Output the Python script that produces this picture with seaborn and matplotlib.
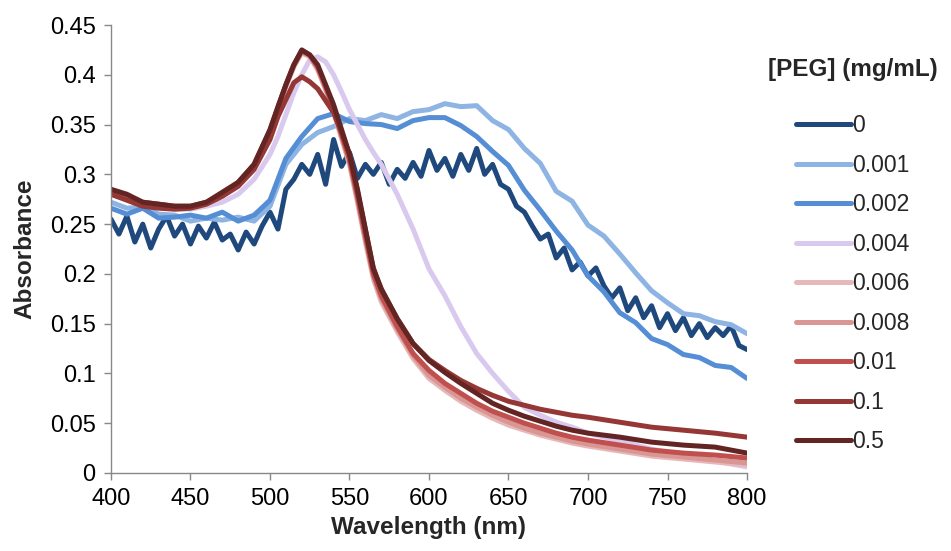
import matplotlib
matplotlib.use("Agg")
import matplotlib.pyplot as plt
from matplotlib.ticker import FuncFormatter, MultipleLocator
import numpy as np
import pandas as pd
import seaborn as sns


# wavelength grids (nm)
WL5 = list(range(400, 805, 5))
WL10 = list(range(400, 810, 10))
WL_PEAK = [400, 410, 420, 430, 440, 450, 460, 470, 480, 490, 500, 505, 510, 515, 520,
           525, 530, 535, 540, 545, 550, 555, 560, 565, 570, 580, 590, 600, 610, 620,
           630, 640, 650, 660, 670, 680, 690, 700, 720, 740, 760, 780, 800]

# [PEG] = 0 mg/mL, noisy spectrum on the 5 nm grid
abs_0 = [0.255, 0.240, 0.258, 0.232, 0.250, 0.226, 0.245, 0.258, 0.238, 0.250,
         0.230, 0.248, 0.236, 0.252, 0.234, 0.240, 0.224, 0.242, 0.230, 0.248,
         0.262, 0.245, 0.285, 0.295, 0.310, 0.300, 0.320, 0.290, 0.335, 0.308,
         0.322, 0.296, 0.310, 0.300, 0.312, 0.290, 0.305, 0.296, 0.312, 0.298,
         0.324, 0.304, 0.316, 0.298, 0.320, 0.304, 0.326, 0.300, 0.310, 0.290,
         0.285, 0.268, 0.262, 0.248, 0.235, 0.240, 0.216, 0.226, 0.204, 0.212,
         0.198, 0.206, 0.188, 0.176, 0.186, 0.163, 0.176, 0.156, 0.168, 0.146,
         0.160, 0.143, 0.156, 0.138, 0.150, 0.136, 0.146, 0.138, 0.148, 0.128,
         0.124]

# 0.001 and 0.002 on the 10 nm grid
abs_0001 = [0.272, 0.266, 0.267, 0.260, 0.259, 0.253, 0.256, 0.254, 0.257, 0.253,
            0.268, 0.310, 0.330, 0.342, 0.348, 0.356, 0.354, 0.360, 0.356, 0.363,
            0.365, 0.371, 0.368, 0.369, 0.354, 0.345, 0.326, 0.311, 0.283, 0.273,
            0.249, 0.238, 0.220, 0.201, 0.183, 0.171, 0.160, 0.158, 0.152, 0.149,
            0.140]
abs_0002 = [0.266, 0.260, 0.266, 0.256, 0.257, 0.259, 0.256, 0.262, 0.253, 0.259,
            0.274, 0.316, 0.338, 0.356, 0.361, 0.353, 0.351, 0.350, 0.346, 0.354,
            0.357, 0.357, 0.349, 0.338, 0.323, 0.309, 0.284, 0.264, 0.243, 0.224,
            0.198, 0.182, 0.161, 0.151, 0.135, 0.129, 0.119, 0.116, 0.108, 0.106,
            0.095]

# 0.004 to 0.5 on the finer grid around the plasmon peak
abs_0004 = [0.280, 0.275, 0.270, 0.270, 0.265, 0.265, 0.268, 0.272, 0.280, 0.295,
            0.320, 0.338, 0.360, 0.382, 0.400, 0.415, 0.418, 0.413, 0.400, 0.383,
            0.365, 0.350, 0.335, 0.322, 0.310, 0.280, 0.245, 0.205, 0.178, 0.147,
            0.120, 0.100, 0.082, 0.066, 0.058, 0.051, 0.046, 0.040, 0.032, 0.024,
            0.018, 0.012, 0.006]
abs_0006 = [0.282, 0.276, 0.270, 0.268, 0.266, 0.266, 0.270, 0.278, 0.290, 0.308,
            0.342, 0.365, 0.388, 0.408, 0.422, 0.418, 0.405, 0.385, 0.362, 0.336,
            0.310, 0.272, 0.232, 0.195, 0.172, 0.142, 0.115, 0.095, 0.083, 0.072,
            0.063, 0.055, 0.048, 0.043, 0.038, 0.034, 0.030, 0.027, 0.022, 0.017,
            0.014, 0.011, 0.008]
abs_0008 = [0.283, 0.277, 0.271, 0.269, 0.267, 0.267, 0.271, 0.279, 0.291, 0.309,
            0.343, 0.366, 0.389, 0.409, 0.423, 0.419, 0.406, 0.386, 0.364, 0.338,
            0.312, 0.275, 0.235, 0.198, 0.175, 0.145, 0.118, 0.098, 0.086, 0.075,
            0.066, 0.058, 0.051, 0.045, 0.040, 0.036, 0.032, 0.029, 0.024, 0.019,
            0.016, 0.013, 0.010]
abs_001 = [0.284, 0.278, 0.272, 0.270, 0.268, 0.268, 0.272, 0.280, 0.292, 0.310,
           0.344, 0.367, 0.390, 0.410, 0.424, 0.420, 0.408, 0.388, 0.366, 0.340,
           0.315, 0.278, 0.238, 0.200, 0.178, 0.147, 0.120, 0.103, 0.090, 0.080,
           0.070, 0.062, 0.056, 0.050, 0.045, 0.040, 0.036, 0.033, 0.028, 0.023,
           0.020, 0.018, 0.015]
abs_01 = [0.280, 0.274, 0.268, 0.266, 0.265, 0.266, 0.270, 0.278, 0.288, 0.305,
          0.335, 0.358, 0.375, 0.392, 0.398, 0.393, 0.386, 0.374, 0.362, 0.342,
          0.320, 0.283, 0.244, 0.206, 0.184, 0.155, 0.130, 0.114, 0.103, 0.093,
          0.085, 0.078, 0.072, 0.068, 0.064, 0.061, 0.058, 0.056, 0.051, 0.046,
          0.043, 0.040, 0.036]
abs_05 = [0.285, 0.280, 0.272, 0.270, 0.268, 0.268, 0.272, 0.282, 0.292, 0.310,
          0.345, 0.368, 0.390, 0.410, 0.425, 0.420, 0.410, 0.390, 0.370, 0.345,
          0.320, 0.285, 0.245, 0.205, 0.185, 0.155, 0.130, 0.113, 0.101, 0.090,
          0.080, 0.070, 0.063, 0.057, 0.052, 0.047, 0.043, 0.040, 0.036, 0.031,
          0.028, 0.026, 0.020]

PEG_LABELS = ["0", "0.001", "0.002", "0.004", "0.006", "0.008", "0.01", "0.1", "0.5"]
SERIES = [
    (WL5, abs_0), (WL10, abs_0001), (WL10, abs_0002), (WL_PEAK, abs_0004),
    (WL_PEAK, abs_0006), (WL_PEAK, abs_0008), (WL_PEAK, abs_001),
    (WL_PEAK, abs_01), (WL_PEAK, abs_05),
]
COLORS = ["#1F497D", "#8DB4E2", "#558ED5", "#D9C9EE", "#E6B9B8",
          "#D99694", "#C0504D", "#953735", "#632523"]


def build_frame() -> pd.DataFrame:
    rows = []
    for label, (wl, vals) in zip(PEG_LABELS, SERIES):
        for w, a in zip(wl, vals):
            rows.append({"wavelength": w, "absorbance": a, "peg": label})
    return pd.DataFrame(rows)


def main() -> None:
    sns.set_style("ticks")
    plt.rcParams["font.family"] = ["Liberation Sans", "DejaVu Sans"]

    df = build_frame()
    fig = plt.figure(figsize=(9.51, 5.51), dpi=100)
    ax = fig.add_axes([0.1167, 0.1416, 0.6688, 0.813])

    sns.lineplot(data=df, x="wavelength", y="absorbance", hue="peg",
                 hue_order=PEG_LABELS, palette=dict(zip(PEG_LABELS, COLORS)),
                 estimator=None, lw=3.6, ax=ax, legend=False)

    ax.set_xlim(400, 800)
    ax.set_ylim(0, 0.45)
    ax.xaxis.set_major_locator(MultipleLocator(50))
    ax.yaxis.set_major_locator(MultipleLocator(0.05))
    ax.yaxis.set_major_formatter(FuncFormatter(lambda v, _: f"{v:.2f}".rstrip("0").rstrip(".")))
    ax.tick_params(axis="both", labelsize=17, colors="#888888", labelcolor="black",
                   length=5, width=1, direction="out", pad=6)
    for side in ["top", "right"]:
        ax.spines[side].set_visible(False)
    for side in ["left", "bottom"]:
        ax.spines[side].set_color("#888888")
        ax.spines[side].set_linewidth(1)

    ax.set_xlabel("Wavelength (nm)", fontsize=17.5, fontweight="bold", labelpad=4)
    ax.set_ylabel("Absorbance", fontsize=17.5, fontweight="bold", labelpad=10)

    handles = [plt.Line2D([0], [0], color=c, lw=3.6) for c in COLORS]
    leg = fig.legend(handles, PEG_LABELS, title="[PEG] (mg/mL)", loc="upper left",
                     bbox_to_anchor=(0.786, 0.932), frameon=False, fontsize=16.5,
                     title_fontproperties={"weight": "bold", "size": 17.5},
                     handlelength=2.4, handletextpad=0.05, labelspacing=0.72)
    leg._legend_box.sep = 24

    fig.savefig("out.png", dpi=100)
    plt.close(fig)


if __name__ == "__main__":
    main()
